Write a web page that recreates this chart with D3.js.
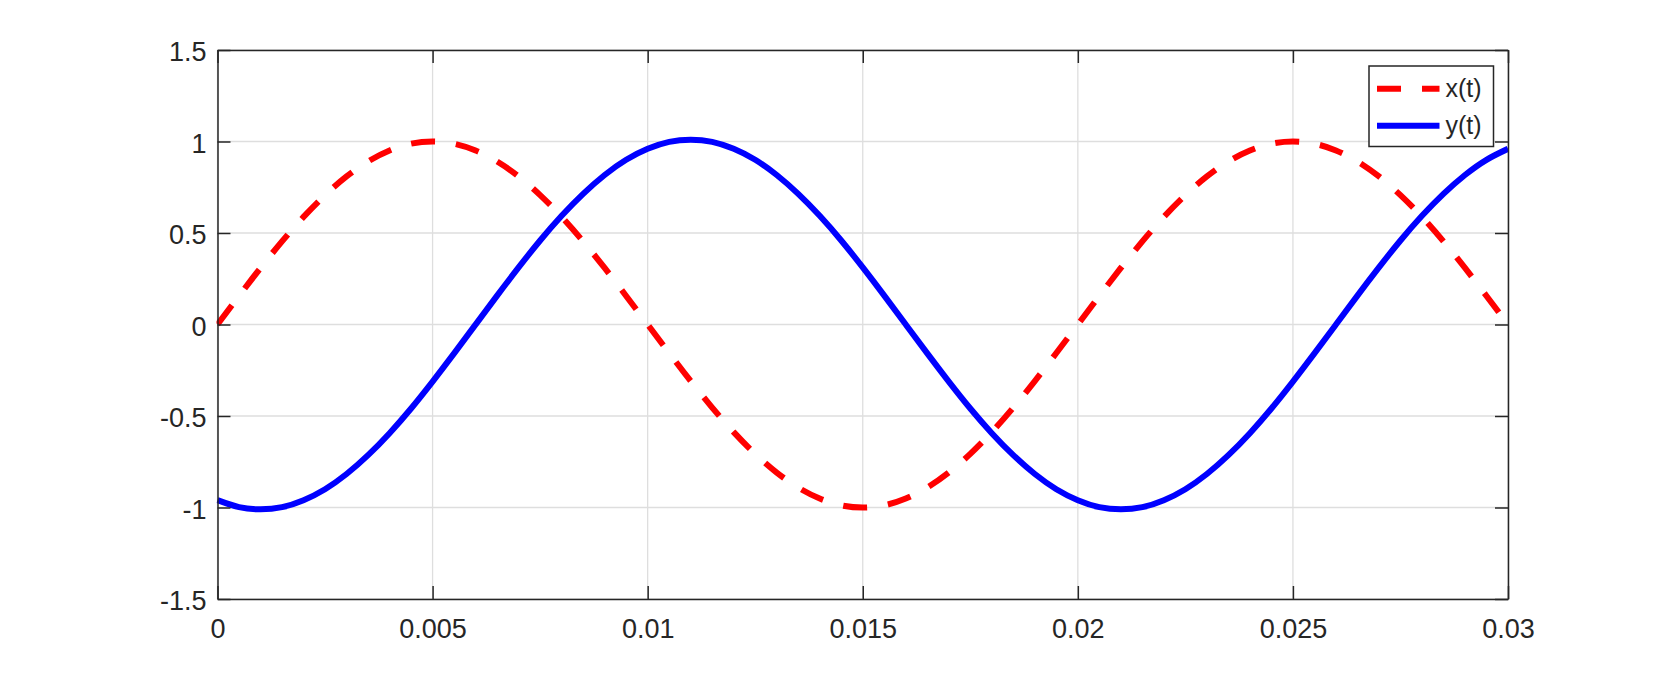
<!DOCTYPE html>
<html>
<head>
<meta charset="utf-8">
<script src="https://cdn.jsdelivr.net/npm/d3@7"></script>
<style>
  html, body { margin: 0; padding: 0; background: #fff; }
  svg { display: block; }
  text { font-family: "Liberation Sans", Arial, Helvetica, sans-serif; fill: #262626; }
</style>
</head>
<body>
<svg id="chart" width="1669" height="675"></svg>
<script>
// ---- data ----
const tValues = [
  0, 0.0005, 0.001, 0.0015, 0.002, 0.0025, 0.003, 0.0035, 0.004, 0.0045,
  0.005, 0.0055, 0.006, 0.0065, 0.007, 0.0075, 0.008, 0.0085, 0.009, 0.0095,
  0.01, 0.0105, 0.011, 0.0115, 0.012, 0.0125, 0.013, 0.0135, 0.014, 0.0145,
  0.015, 0.0155, 0.016, 0.0165, 0.017, 0.0175, 0.018, 0.0185, 0.019, 0.0195,
  0.02, 0.0205, 0.021, 0.0215, 0.022, 0.0225, 0.023, 0.0235, 0.024, 0.0245,
  0.025, 0.0255, 0.026, 0.0265, 0.027, 0.0275, 0.028, 0.0285, 0.029, 0.0295,
  0.03
];
const xSeries = [
  0, 0.156, 0.309, 0.454, 0.588, 0.707, 0.809, 0.891, 0.951, 0.988,
  1.000, 0.988, 0.951, 0.891, 0.809, 0.707, 0.588, 0.454, 0.309, 0.156,
  0, -0.156, -0.309, -0.454, -0.588, -0.707, -0.809, -0.891, -0.951, -0.988,
  -1.000, -0.988, -0.951, -0.891, -0.809, -0.707, -0.588, -0.454, -0.309, -0.156,
  0, 0.156, 0.309, 0.454, 0.588, 0.707, 0.809, 0.891, 0.951, 0.988,
  1.000, 0.988, 0.951, 0.891, 0.809, 0.707, 0.588, 0.454, 0.309, 0.156,
  0
];
const ySeries = [
  -0.960, -0.998, -1.010, -0.998, -0.960, -0.900, -0.817, -0.714, -0.594, -0.459,
  -0.312, -0.158, 0, 0.158, 0.312, 0.459, 0.594, 0.714, 0.817, 0.900,
  0.960, 0.998, 1.010, 0.998, 0.960, 0.900, 0.817, 0.714, 0.594, 0.459,
  0.312, 0.158, 0, -0.158, -0.312, -0.459, -0.594, -0.714, -0.817, -0.900,
  -0.960, -0.998, -1.010, -0.998, -0.960, -0.900, -0.817, -0.714, -0.594, -0.459,
  -0.312, -0.158, 0, 0.158, 0.312, 0.459, 0.594, 0.714, 0.817, 0.900,
  0.960
];
const xTicks = [0, 0.005, 0.01, 0.015, 0.02, 0.025, 0.03];
const xTickLabels = ["0", "0.005", "0.01", "0.015", "0.02", "0.025", "0.03"];
const yTicks = [-1.5, -1, -0.5, 0, 0.5, 1, 1.5];
const yTickLabels = ["-1.5", "-1", "-0.5", "0", "0.5", "1", "1.5"];
const seriesNames = ["x(t)", "y(t)"];
const seriesColors = ["#ff0000", "#0000ff"];

// ---- layout ----
const L = 217.5, R = 1508, T = 50, B = 599;
const svg = d3.select("#chart");
const x = d3.scaleLinear().domain([0, 0.03]).range([L, R]);
const y = d3.scaleLinear().domain([-1.5, 1.5]).range([B, T]);
const axisColor = "#262626";
const tickLen = 13;

// grid
const grid = svg.append("g");
grid.selectAll("line.vg").data(xTicks).join("line")
  .attr("x1", d => x(d)).attr("x2", d => x(d)).attr("y1", T).attr("y2", B)
  .attr("stroke", "#dedede").attr("stroke-width", 1.3);
grid.selectAll("line.hg").data(yTicks).join("line")
  .attr("y1", d => y(d)).attr("y2", d => y(d)).attr("x1", L).attr("x2", R)
  .attr("stroke", "#dedede").attr("stroke-width", 1.3);

// lines
svg.append("defs").append("clipPath").attr("id", "clip")
  .append("rect").attr("x", L - 1).attr("y", T).attr("width", R - L + 2).attr("height", B - T);

const pts = (vals) => tValues.map((t, i) => [t, vals[i]]);
const line = d3.line().x(d => x(d[0])).y(d => y(d[1])).curve(d3.curveNatural);
const plotG = svg.append("g").attr("clip-path", "url(#clip)");
plotG.append("path").datum(pts(ySeries)).attr("d", line)
  .attr("fill", "none").attr("stroke", seriesColors[1]).attr("stroke-width", 6);
plotG.append("path").datum(pts(xSeries)).attr("d", line)
  .attr("fill", "none").attr("stroke", seriesColors[0]).attr("stroke-width", 6)
  .attr("stroke-dasharray", "24 21");

// axes (box with inward ticks on all four sides)
const bottomAxis = d3.axisBottom(x).tickValues(xTicks).tickSizeInner(-tickLen).tickSizeOuter(0)
  .tickPadding(20).tickFormat((d, i) => xTickLabels[i]);
const topAxis = d3.axisTop(x).tickValues(xTicks).tickSizeInner(-tickLen).tickSizeOuter(0).tickFormat("");
const leftAxis = d3.axisLeft(y).tickValues(yTicks).tickSizeInner(-tickLen).tickSizeOuter(0)
  .tickPadding(11).tickFormat((d, i) => yTickLabels[i]);
const rightAxis = d3.axisRight(y).tickValues(yTicks).tickSizeInner(-tickLen).tickSizeOuter(0).tickFormat("");

function style(g) {
  g.select(".domain").attr("stroke", axisColor).attr("stroke-width", 1.5);
  g.selectAll(".tick line").attr("stroke", axisColor).attr("stroke-width", 1.5);
  g.selectAll(".tick text").attr("fill", axisColor)
    .style("font-family", '"Liberation Sans", Arial, sans-serif').style("font-size", "27px");
}
svg.append("g").attr("class", "xaxis").attr("transform", `translate(0,${B})`).call(bottomAxis).call(style)
  .selectAll(".tick text").attr("dy", "0.71em");
svg.append("g").attr("transform", `translate(0,${T})`).call(topAxis).call(style);
svg.append("g").attr("transform", `translate(${L},0)`).call(leftAxis).call(style)
  .selectAll(".tick text").attr("dy", "0.4em");
svg.append("g").attr("transform", `translate(${R},0)`).call(rightAxis).call(style);

// legend
const lg = svg.append("g");
lg.append("rect").attr("x", 1369).attr("y", 66).attr("width", 124.5).attr("height", 80.5)
  .attr("fill", "#fff").attr("stroke", axisColor).attr("stroke-width", 1.5);
const rowsY = [88.7, 125.7];
seriesNames.forEach((name, i) => {
  lg.append("line").attr("x1", 1377).attr("x2", 1439.5).attr("y1", rowsY[i]).attr("y2", rowsY[i])
    .attr("stroke", seriesColors[i]).attr("stroke-width", 6)
    .attr("stroke-dasharray", i === 0 ? "24 21" : null);
  lg.append("text").attr("x", 1445.5).attr("y", rowsY[i]).attr("dy", "0.35em")
    .style("font-size", "25px").attr("fill", "#000").text(name);
});
</script>
</body>
</html>
